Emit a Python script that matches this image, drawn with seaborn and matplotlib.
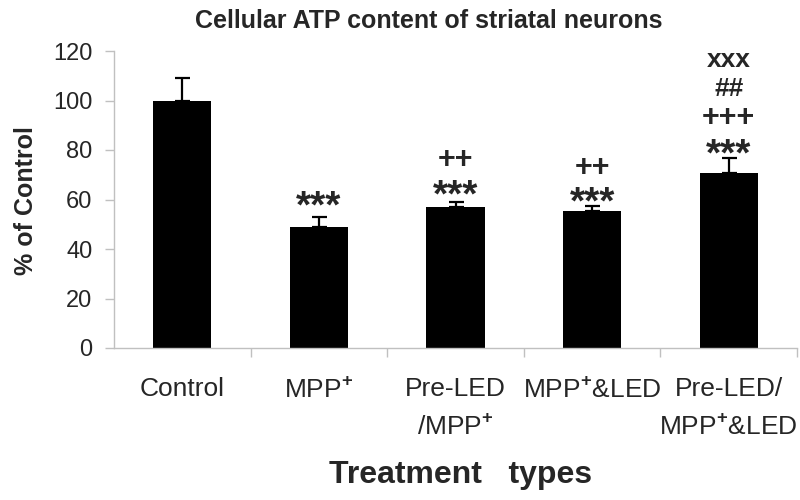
import matplotlib
matplotlib.use("Agg")
import matplotlib.pyplot as plt
import seaborn as sns
import pandas as pd
from matplotlib.ticker import FixedLocator

sns.set_style("white")
plt.rcParams['font.family'] = ['Liberation Sans', 'DejaVu Sans']
plt.rcParams['mathtext.fontset'] = 'custom'
plt.rcParams['mathtext.rm'] = 'Liberation Sans'
plt.rcParams['mathtext.bf'] = 'Liberation Sans:bold'

categories = ["Control", "MPP+", "Pre-LED/MPP+", "MPP+&LED", "Pre-LED/MPP+&LED"]
tick_labels = ["Control", r"MPP$^{\mathbf{+}}$", "Pre-LED\n" + r"/MPP$^{\mathbf{+}}$",
               r"MPP$^{\mathbf{+}}$&LED", "Pre-LED/\n" + r"MPP$^{\mathbf{+}}$&LED"]
values = [100, 48.8, 56.8, 55.5, 70.6]
errors = [8.9, 4.3, 2.0, 2.0, 6.2]
# significance marks: category index, vertical centre (data units), text
marks_cat = [1, 2, 2, 3, 3, 4, 4, 4, 4]
marks_y = [62.2, 66.7, 77.2, 63.8, 73.9, 83.2, 94.1, 105.5, 116.4]
marks_txt = ["***", "***", "++", "***", "++", "***", "+++", "##", "xxx"]

GRAY = "#c0c0c0"
df = pd.DataFrame({"cat": categories, "val": values})

fig = plt.figure(figsize=(8, 5), dpi=100)
ax = fig.add_axes([114 / 800, 1 - 348 / 500, 683 / 800, 297 / 500])
sns.barplot(data=df, x="cat", y="val", color="black", saturation=1,
            width=0.425, errorbar=None, linewidth=0, ax=ax)
xs = list(range(len(categories)))
ax.errorbar(xs, values, yerr=[[0] * len(values), errors], fmt="none",
            ecolor="black", elinewidth=1.6, capsize=5.4, capthick=1.6, zorder=3)

# font size and glyph-centre height (fraction of size) per mark symbol
mark_size = {"*": 28, "+": 22, "x": 19, "#": 19}
mark_mid = {"*": 0.60, "+": 0.35, "x": 0.26, "#": 0.36}
for c, y, t in zip(marks_cat, marks_y, marks_txt):
    s = mark_size[t[0]]
    ax.annotate(t, xy=(c, y), xytext=(0, -mark_mid[t[0]] * s),
                textcoords="offset points", ha="center", va="baseline",
                fontsize=s, fontweight="bold")

ax.set_ylim(0, 120)
ax.set_xlim(-0.5, 4.5)
ax.set_yticks([0, 20, 40, 60, 80, 100, 120])
ax.tick_params(axis="y", labelsize=17, length=6.5, width=1, color=GRAY, left=True, pad=9)
ax.set_xticks(xs)
ax.set_xticklabels(tick_labels, fontsize=19, linespacing=1.65)
ax.tick_params(axis="x", which="major", length=0, pad=21)
ax.xaxis.set_minor_locator(FixedLocator([0.5, 1.5, 2.5, 3.5, 4.5]))
ax.tick_params(axis="x", which="minor", length=6.5, width=1, color=GRAY, bottom=True)

for s in ["top", "right"]:
    ax.spines[s].set_visible(False)
for s in ["left", "bottom"]:
    ax.spines[s].set_color(GRAY)
    ax.spines[s].set_linewidth(1)

ax.set_ylabel("% of Control", fontsize=18, fontweight="bold", va="baseline")
ax.yaxis.set_label_coords(-0.1186, 0.495)
ax.set_xlabel("Treatment   types", fontsize=23, fontweight="bold", va="baseline")
ax.xaxis.set_label_coords(0.507, -0.4545)
fig.text(0.536, 0.944, "Cellular ATP content of striatal neurons",
         ha="center", va="baseline", fontsize=18, fontweight="bold")

fig.savefig("out.png", dpi=100)
